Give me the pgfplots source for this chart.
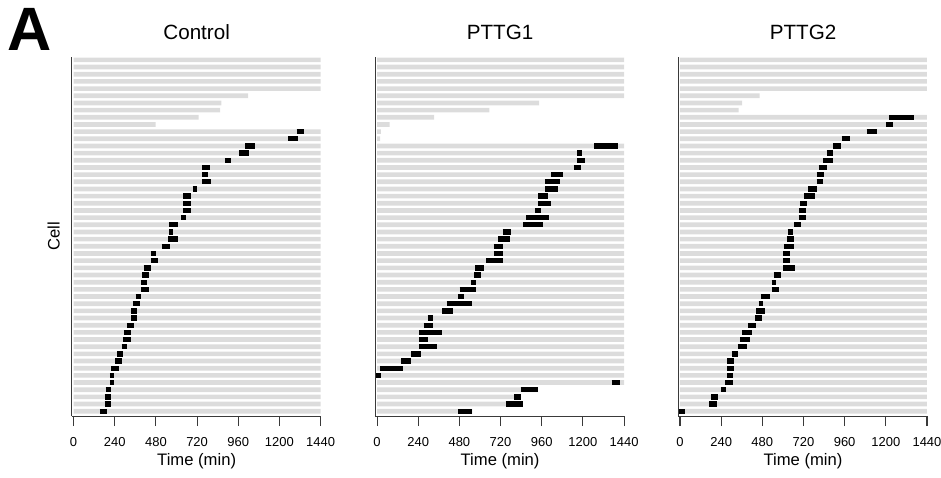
\documentclass[border=0pt]{standalone}
\usepackage{fontspec}
\setmainfont{Liberation Sans}
\usepackage{pgfplots}
\pgfplotsset{compat=1.18}
\usepackage{pgfplotstable}

\definecolor{barg}{HTML}{DCDCDC}
\definecolor{axg}{HTML}{3A3A3A}

% gray = time a cell is followed (from 0 to end), marks = mitosis (ms to me)
\pgfplotstableread[row sep=\\]{
y end\\
50 1440\\ 49 1440\\ 48 1440\\ 47 1440\\ 46 1440\\ 45 1018\\ 44 861\\ 43 855\\ 42 729\\ 41 478\\
40 1440\\ 39 1440\\ 38 1440\\ 37 1440\\ 36 1440\\ 35 1440\\ 34 1440\\ 33 1440\\ 32 1440\\ 31 1440\\
30 1440\\ 29 1440\\ 28 1440\\ 27 1440\\ 26 1440\\ 25 1440\\ 24 1440\\ 23 1440\\ 22 1440\\ 21 1440\\
20 1440\\ 19 1440\\ 18 1440\\ 17 1440\\ 16 1440\\ 15 1440\\ 14 1440\\ 13 1440\\ 12 1440\\ 11 1440\\
10 1440\\ 9 1440\\ 8 1440\\ 7 1440\\ 6 1440\\ 5 1440\\ 4 1440\\ 3 1440\\ 2 1440\\ 1 1440\\
}\ctrlgray
\pgfplotstableread[row sep=\\]{
y ms me\\
40 1300 1345\\ 39 1251 1308\\ 38 1001 1057\\ 37 964 1020\\ 36 882 919\\
35 750 795\\ 34 750 783\\ 33 750 800\\ 32 694 719\\ 31 639 686\\
30 639 686\\ 29 639 686\\ 28 626 655\\ 27 558 606\\ 26 558 579\\
25 552 606\\ 24 513 562\\ 23 451 480\\ 22 451 494\\ 21 408 449\\
20 400 439\\ 19 392 426\\ 18 392 439\\ 17 361 394\\ 16 344 389\\
15 336 369\\ 14 336 369\\ 13 311 350\\ 12 293 332\\ 11 288 332\\
10 280 313\\ 9 255 288\\ 8 243 282\\ 7 220 264\\ 6 212 237\\
5 212 237\\ 4 187 220\\ 3 181 220\\ 2 181 220\\ 1 153 194\\
}\ctrlmk

\pgfplotstableread[row sep=\\]{
y end\\
50 1440\\ 49 1440\\ 48 1440\\ 47 1440\\ 46 1440\\ 45 1440\\ 44 945\\ 43 655\\ 42 333\\ 41 74\\
40 23\\ 39 18\\ 38 1440\\ 37 1440\\ 36 1440\\ 35 1440\\ 34 1440\\ 33 1440\\ 32 1440\\ 31 1440\\
30 1440\\ 29 1440\\ 28 1440\\ 27 1440\\ 26 1440\\ 25 1440\\ 24 1440\\ 23 1440\\ 22 1440\\ 21 1440\\
20 1440\\ 19 1440\\ 18 1440\\ 17 1440\\ 16 1440\\ 15 1440\\ 14 1440\\ 13 1440\\ 12 1440\\ 11 1440\\
10 1440\\ 9 1440\\ 8 1440\\ 7 1440\\ 6 1440\\ 5 1440\\ 4 939\\ 3 837\\ 2 849\\ 1 556\\
}\ponegray
\pgfplotstableread[row sep=\\]{
y ms me\\
38 1266 1405\\ 37 1166 1195\\ 36 1166 1215\\ 35 1148 1190\\ 34 1015 1084\\
33 978 1064\\ 32 978 1053\\ 31 939 996\\ 30 939 1013\\ 29 921 957\\
28 871 1002\\ 27 851 970\\ 26 732 781\\ 25 708 775\\ 24 681 732\\
23 681 732\\ 22 638 732\\ 21 573 624\\ 20 567 605\\ 19 550 579\\
18 481 579\\ 17 473 505\\ 16 405 556\\ 15 380 440\\ 14 295 329\\
13 272 329\\ 12 247 378\\ 11 247 297\\ 10 247 352\\ 9 198 258\\
8 141 196\\ 7 20 151\\ 6 -4 25\\ 5 1368 1417\\ 4 837 939\\
3 800 837\\ 2 749 849\\ 1 473 556\\
}\ponemk

\pgfplotstableread[row sep=\\]{
y end\\
50 1440\\ 49 1440\\ 48 1440\\ 47 1440\\ 46 1440\\ 45 464\\ 44 362\\ 43 342\\ 42 1440\\ 41 1440\\
40 1440\\ 39 1440\\ 38 1440\\ 37 1440\\ 36 1440\\ 35 1440\\ 34 1440\\ 33 1440\\ 32 1440\\ 31 1440\\
30 1440\\ 29 1440\\ 28 1440\\ 27 1440\\ 26 1440\\ 25 1440\\ 24 1440\\ 23 1440\\ 22 1440\\ 21 1440\\
20 1440\\ 19 1440\\ 18 1440\\ 17 1440\\ 16 1440\\ 15 1440\\ 14 1440\\ 13 1440\\ 12 1440\\ 11 1440\\
10 1440\\ 9 1440\\ 8 1440\\ 7 1440\\ 6 1440\\ 5 1440\\ 4 1440\\ 3 1440\\ 2 1440\\ 1 1440\\
}\ptwogray
\pgfplotstableread[row sep=\\]{
y ms me\\
42 1219 1364\\ 41 1201 1244\\ 40 1088 1148\\ 39 943 994\\ 38 892 941\\
37 855 892\\ 36 835 892\\ 35 810 859\\ 34 796 841\\ 33 796 835\\
32 747 796\\ 31 722 785\\ 30 702 742\\ 29 696 734\\ 28 691 734\\
27 665 708\\ 26 628 659\\ 25 622 665\\ 24 608 665\\ 23 603 640\\
22 603 640\\ 21 603 671\\ 20 546 589\\ 19 534 558\\ 18 534 577\\
17 472 526\\ 16 458 483\\ 15 446 495\\ 14 440 477\\ 13 397 446\\
12 364 419\\ 11 352 407\\ 10 338 389\\ 9 301 338\\ 8 276 313\\
7 276 313\\ 6 276 307\\ 5 264 307\\ 4 239 270\\ 3 182 219\\
2 170 213\\ 1 -8 29\\
}\ptwomk

\pgfplotsset{
  panel/.style={
    scale only axis, width=187.5pt, height=270pt,
    xmin=-10, xmax=1445, ymin=0.3, ymax=50.42,
    axis x line*=bottom, axis y line*=left,
    axis line style={axg, line width=0.8pt},
    xtick={0,240,...,1440}, ytick=\empty,
    tick align=outside, major tick length=7.5pt,
    x tick style={axg, line width=0.8pt},
    /pgf/number format/assume math mode=true,
    /pgf/number format/1000 sep={},
    tick label style={font=\fontsize{9.75}{12}\selectfont},
    xticklabel style={yshift=-5pt},
    xlabel={Time (min)},
    xlabel style={at={(axis description cs:0.5,0)}, anchor=north, yshift=-24.5pt},
    label style={font=\fontsize{12.5}{15}\selectfont},
    title style={font=\fontsize{15.5}{18}\selectfont, yshift=3.75pt},
    clip=false,
  },
  graybars/.style={xbar, bar width=3.5pt, fill=barg, draw=none},
  mitosis/.style={black, line width=4pt, mark=none,
    quiver={u=\thisrow{me}-\thisrow{ms}, v=0}},
}

\begin{document}
\begin{tikzpicture}
\path[use as bounding box] (-54pt,-45.75pt) rectangle (653pt,312.75pt);

\begin{axis}[panel, name=p1, at={(0pt,0pt)}, anchor=south west, title={Control},
  ylabel={Cell}, ylabel style={at={(axis description cs:-0.03,0.5)}, anchor=south, rotate=0}]
\addplot[graybars] table[x=end, y=y] \ctrlgray;
\addplot[mitosis] table[x=ms, y=y] \ctrlmk;
\end{axis}

\begin{axis}[panel, name=p2, at={(228pt,0pt)}, anchor=south west, title={PTTG1}]
\addplot[graybars] table[x=end, y=y] \ponegray;
\addplot[mitosis] table[x=ms, y=y] \ponemk;
\end{axis}

\begin{axis}[panel, name=p3, at={(455.6pt,0pt)}, anchor=south west, title={PTTG2}]
\addplot[graybars] table[x=end, y=y] \ptwogray;
\addplot[mitosis] table[x=ms, y=y] \ptwomk;
\end{axis}

\node[anchor=north west, inner sep=0pt, font=\fontsize{46}{50}\selectfont\bfseries]
  at (-48.75pt,306.75pt) {A};
\end{tikzpicture}
\end{document}
